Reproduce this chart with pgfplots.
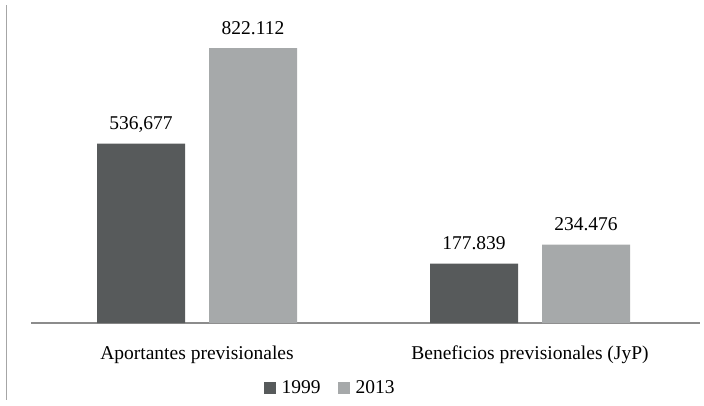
\documentclass[border=0pt]{standalone}
\usepackage{fontspec}
\setmainfont{Liberation Serif}
\usepackage{pgfplots}
\pgfplotsset{compat=1.18}
\definecolor{dark}{HTML}{575A5B}
\definecolor{light}{HTML}{A6A9AA}
\definecolor{vline}{HTML}{A6A6A6}
\definecolor{axline}{HTML}{8C8C8C}
\newcommand{\chartfont}{\fontsize{19.5bp}{23bp}\selectfont}
\begin{document}
\begin{tikzpicture}
\useasboundingbox (0,0) rectangle (704bp,406bp);
\draw[vline, line width=1.5bp] (6.5bp,6bp) -- (6.5bp,401bp);
\begin{axis}[
  at={(31bp,83bp)}, anchor=south west,
  scale only axis, width=669bp, height=301bp,
  xmin=-0.4985, xmax=1.5105, ymin=0, ymax=900,
  ybar=24bp, bar width=88bp,
  axis x line=bottom, axis y line=none,
  axis line style={-, draw=axline, line width=1.2bp},
  xtick={0,1},
  xticklabels={Aportantes previsionales, Beneficios previsionales (JyP)},
  xtick style={draw=none},
  xticklabel style={font=\chartfont, anchor=base, yshift=-34bp, inner sep=0pt},
  clip=false,
  nodes near coords={\pgfplotspointmeta},
  point meta=explicit symbolic,
  nodes near coords style={font=\chartfont, text=black, anchor=base, inner sep=0pt, yshift=14bp},
  legend style={draw=none, at={(0.447,-0.216)}, anchor=center, legend columns=-1,
    font=\chartfont, inner sep=0pt,
    /tikz/every even column/.append style={column sep=15bp}},
  legend image code/.code={\fill[#1] (0bp,-6bp) rectangle (12bp,6bp); \path (16bp,0bp);},
]
\addplot[fill=dark, draw=none] coordinates {(0,536.677) [536,677] (1,177.839) [177.839]};
\addplot[fill=light, draw=none] coordinates {(0,822.112) [822.112] (1,234.476) [234.476]};
\legend{1999, 2013}
\end{axis}
\end{tikzpicture}
\end{document}
